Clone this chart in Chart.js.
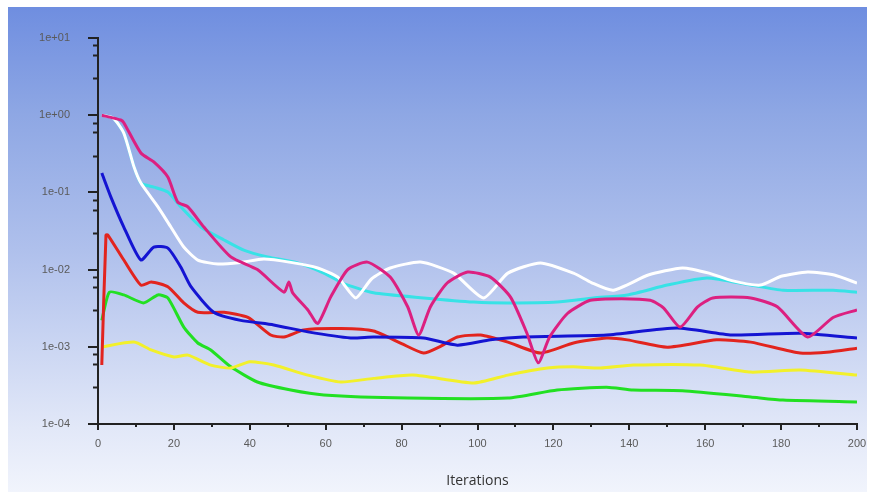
<!DOCTYPE html>
<html>
<head>
<meta charset="utf-8">
<script src="https://cdn.jsdelivr.net/npm/chart.js@4"></script>
<style>
  html, body { margin: 0; padding: 0; background: #fff; }
  #wrap { width: 874px; height: 497px; }
</style>
</head>
<body>
<div id="wrap"><canvas id="chart" width="874" height="497"></canvas></div>
<script>
// residual histories: [iteration, value]
const whiteRes = [[1,1.0],[4,0.92],[6.8,0.587],[9.5,0.213],[11.3,0.132],[15.8,0.065],[19.2,0.0356],[22.6,0.0196],[26.3,0.0133],[31.6,0.0118],[37.6,0.0124],[43.7,0.0137],[50.8,0.0124],[57.9,0.0105],[63.2,0.008],[67.9,0.0043],[72,0.0075],[77,0.0105],[85,0.0125],[93.7,0.009],[101.6,0.0043],[108,0.009],[116.6,0.0122],[125.3,0.009],[130,0.0068],[135.8,0.0054],[145,0.0085],[154,0.0105],[161,0.009],[167,0.0072],[174.5,0.0063],[180,0.0082],[187,0.0093],[194,0.0085],[200,0.0067]];
const cyanRes = [[1,1.0],[4,0.92],[6.8,0.587],[9.5,0.213],[11.3,0.132],[14.7,0.117],[18.4,0.101],[21.8,0.065],[27.1,0.0356],[33.2,0.0242],[38.4,0.0179],[44.7,0.0146],[52.6,0.0122],[59.5,0.009],[64.5,0.0067],[72.6,0.005],[85.8,0.0043],[99,0.0038],[108,0.0037],[121,0.0038],[130.5,0.0043],[139.5,0.0047],[150,0.0063],[160.5,0.0078],[172,0.0063],[180.5,0.0054],[193.7,0.0054],[200,0.0051]];
const magentaRes = [[1,1.0],[6,0.866],[6.8,0.8],[11.3,0.324],[14.7,0.248],[18.4,0.158],[21,0.075],[23.7,0.065],[27.9,0.0356],[35,0.0146],[42,0.01],[49,0.0051],[50.3,0.0069],[51.3,0.005],[55.3,0.003],[57.9,0.002],[61.3,0.0044],[65.8,0.01],[71,0.0125],[77,0.008],[81.6,0.0033],[84.5,0.00142],[87.6,0.0033],[92,0.0067],[97.4,0.0093],[103.4,0.008],[108.7,0.0044],[113,0.00151],[116,0.00062],[119,0.00134],[123.7,0.0027],[129.7,0.004],[138,0.0042],[145.5,0.004],[149,0.0032],[153.4,0.0018],[158,0.0033],[162,0.0043],[172,0.0043],[179,0.0033],[187,0.00134],[193.7,0.0024],[200,0.003]];
const blueRes = [[1,0.178],[3.4,0.087],[6.8,0.0356],[11.3,0.0133],[14.7,0.0196],[18.4,0.019],[21.8,0.0108],[24.5,0.006],[30.5,0.0028],[37.6,0.0022],[46.3,0.00192],[55.3,0.00156],[66.6,0.0013],[72.6,0.00134],[85.8,0.0013],[94.7,0.00105],[103.4,0.00123],[112,0.00134],[134,0.00142],[152.6,0.00175],[167,0.00142],[185,0.0015],[200,0.0013]];
const redRes = [[1,0.00058],[2.1,0.028],[2.6,0.028],[6.8,0.0133],[11.3,0.0063],[14,0.0069],[18.4,0.006],[22.6,0.0037],[26.3,0.0028],[33.2,0.0028],[39.5,0.0024],[45.5,0.00142],[49,0.00134],[54.2,0.00165],[64,0.00172],[72.6,0.0016],[80,0.0011],[85.8,0.00083],[90,0.001],[94.7,0.00134],[100.8,0.00142],[108,0.00115],[116.6,0.00083],[125.3,0.00112],[134,0.0013],[139.5,0.00123],[150,0.00099],[163,0.00123],[172,0.00115],[185,0.00083],[192,0.00085],[200,0.00096]];
const greenRes = [[1,0.0022],[3,0.0051],[6.8,0.0047],[12,0.0037],[15.8,0.0047],[18.4,0.0043],[22.6,0.0018],[26.3,0.00112],[29.7,0.00091],[35,0.00055],[42,0.00035],[50.8,0.000276],[59.5,0.000238],[81.6,0.000217],[108,0.000217],[121,0.000276],[134,0.0003],[141,0.000276],[154,0.00027],[172,0.000224],[180.5,0.000204],[200,0.000193]];
const yellowRes = [[1,0.001],[9.5,0.00115],[14,0.00091],[20,0.00074],[23.7,0.00078],[29.7,0.00058],[35,0.00053],[40,0.00064],[46.3,0.00058],[55.3,0.00043],[64,0.00035],[72.6,0.00039],[83,0.00043],[99,0.00034],[108,0.00043],[118.4,0.00053],[125.3,0.00055],[132.4,0.00053],[141,0.00058],[158.7,0.00058],[172,0.00047],[185,0.0005],[200,0.00043]];

const yDecades = [1e-4, 1e-3, 1e-2, 1e-1, 1e0, 1e1];
const yMinorFactors = [8, 6, 3];
const xMajorTicks = [0, 20, 40, 60, 80, 100, 120, 140, 160, 180, 200];
const xMinorTicks = [10, 30, 50, 70, 90, 110, 130, 150, 170, 190];

const toPts = arr => arr.map(p => ({ x: p[0], y: p[1] }));

function series(data, color) {
  return {
    data: toPts(data),
    borderColor: color,
    borderWidth: 3,
    pointRadius: 0,
    tension: 0.2,
    fill: false
  };
}

/* background panel */
const panelBg = {
  id: "panelBg",
  beforeDraw(chart) {
    const c = chart.ctx;
    const g = c.createLinearGradient(0, 7, 0, 492);
    g.addColorStop(0, "#6f8ee0");
    g.addColorStop(0.22, "#8ea7e4");
    g.addColorStop(0.5, "#afc0ec");
    g.addColorStop(0.87, "#e2e8f8");
    g.addColorStop(1, "#f1f4fc");
    c.save();
    c.fillStyle = g;
    c.fillRect(8, 7, 859, 485);
    c.restore();
  }
};

/* minor tick marks */
const minorTicks = {
  id: "minorTicks",
  afterDraw(chart) {
    const c = chart.ctx;
    const xs = chart.scales.x, ys = chart.scales.y;
    c.save();
    c.strokeStyle = "#222";
    c.lineWidth = 2;
    c.beginPath();
    yDecades.slice(0, -1).forEach(d => {
      yMinorFactors.forEach(f => {
        const py = Math.round(ys.getPixelForValue(d * f)) + 0.5;
        c.moveTo(ys.right - 5, py);
        c.lineTo(ys.right, py);
      });
    });
    xMinorTicks.forEach(v => {
      const px = Math.round(xs.getPixelForValue(v));
      c.moveTo(px, xs.top);
      c.lineTo(px, xs.top + 3);
    });
    c.stroke();
    c.restore();
  }
};

const fmtExp = v => {
  const e = Math.round(Math.log10(v));
  return "1e" + (e < 0 ? "-" : "+") + String(Math.abs(e)).padStart(2, "0");
};

new Chart(document.getElementById("chart"), {
  type: "line",
  data: {
    datasets: [
      series(magentaRes, "#dc2080"),
      series(blueRes, "#1414d2"),
      series(redRes, "#e2241e"),
      series(whiteRes, "#ffffff"),
      series(cyanRes, "#38e2e6"),
      series(yellowRes, "#f2f02a"),
      series(greenRes, "#22e022")
    ]
  },
  options: {
    responsive: false,
    animation: false,
    layout: { padding: { left: 8, right: 17, top: 38, bottom: 0 } },
    plugins: { legend: { display: false }, tooltip: { enabled: false } },
    scales: {
      x: {
        type: "linear",
        min: 0,
        max: 200,
        afterBuildTicks: s => { s.ticks = xMajorTicks.map(v => ({ value: v })); },
        afterFit: s => { s.height = 73; },
        grid: { drawOnChartArea: false, drawTicks: true, tickLength: 6, color: "#222", lineWidth: 2 },
        border: { color: "#222", width: 2 },
        ticks: {
          padding: 7,
          color: "#5a5a5a",
          font: { family: "Liberation Sans", size: 11 },
          maxRotation: 0
        },
        title: {
          display: true,
          text: "Iterations",
          color: "#333",
          font: { family: "Open Sans", size: 14 },
          padding: { top: 0, bottom: 8 }
        }
      },
      y: {
        type: "logarithmic",
        min: 1e-4,
        max: 1e1,
        afterBuildTicks: s => { s.ticks = yDecades.map(v => ({ value: v })); },
        afterFit: s => { s.width = 90; },
        grid: { drawOnChartArea: false, drawTicks: true, tickLength: 10, color: "#222", lineWidth: 2 },
        border: { color: "#222", width: 2 },
        ticks: {
          padding: 18,
          color: "#5a5a5a",
          font: { family: "Liberation Sans", size: 11 },
          callback: v => fmtExp(v)
        }
      }
    }
  },
  plugins: [panelBg, minorTicks]
});
</script>
</body>
</html>
